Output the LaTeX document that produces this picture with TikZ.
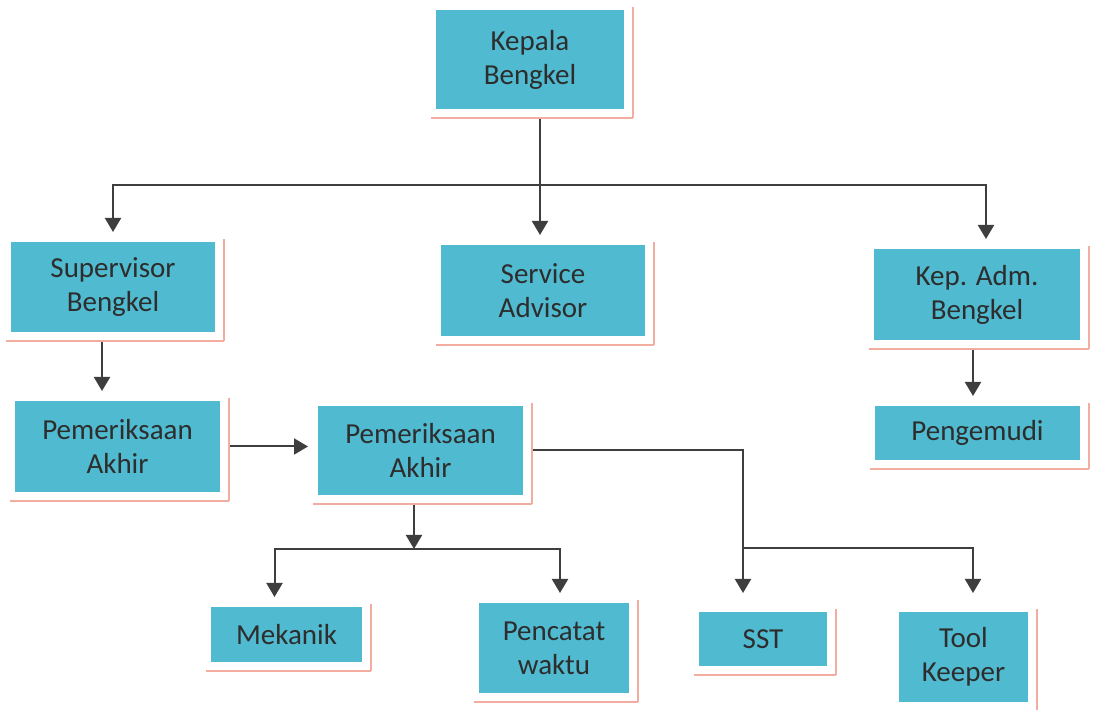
\documentclass[tikz,border=0pt]{standalone}
\usepackage{fontspec}
\setmainfont{Carlito}
\usetikzlibrary{arrows.meta}
\definecolor{boxfill}{RGB}{80,186,208}
\definecolor{rim}{RGB}{242,172,160}
\definecolor{ink}{RGB}{62,62,62}
\definecolor{txt}{RGB}{45,45,45}
\tikzset{
  unit/.style={fill=boxfill, text=txt, align=center, inner sep=0pt, outer sep=10pt,
    font=\fontsize{29}{34}\selectfont},
  link/.style={draw=ink, line width=2pt},
  arr/.style={link, -{Triangle[width=16pt,length=14pt]}},
}
\begin{document}
\begin{tikzpicture}[x=1pt,y=1pt]
\useasboundingbox (0,0) rectangle (1096,710);
% top level
\node[unit, minimum width=188pt, minimum height=99pt] (kepala) at (530,650.5) {Kepala\\Bengkel};
% second level
\node[unit, minimum width=204pt, minimum height=90pt] (supervisor) at (113,423) {Supervisor\\Bengkel};
\node[unit, minimum width=204pt, minimum height=91pt] (advisor) at (543,419.5) {Service\\Advisor};
\node[unit, minimum width=206pt, minimum height=91pt] (kepadm) at (977,415.5) {Kep. Adm.\\Bengkel};
% third level
\node[unit, minimum width=205pt, minimum height=91pt] (periksaA) at (117.5,263.5) {Pemeriksaan\\Akhir};
\node[unit, minimum width=205pt, minimum height=89pt] (periksaB) at (420.5,259.5) {Pemeriksaan\\Akhir};
\node[unit, minimum width=205pt, minimum height=54pt] (pengemudi) at (977.5,277) {Pengemudi};
% bottom level
\node[unit, minimum width=151pt, minimum height=55pt] (mekanik) at (286.5,75.5) {Mekanik};
\node[unit, minimum width=150pt, minimum height=90pt] (pencatat) at (554,62) {Pencatat\\waktu};
\node[unit, minimum width=128pt, minimum height=54pt] (sst) at (763,71) {SST};
\node[unit, minimum width=129pt, minimum height=90pt] (keeper) at (963.5,53) {Tool\\Keeper};
% pink rims
\foreach \n in {kepala,supervisor,advisor,kepadm,periksaA,periksaB,pengemudi,mekanik,pencatat,sst,keeper}
{   \draw[rim, line width=1.2pt] ([xshift=-1pt,yshift=-7pt]\n.north east) -- ([xshift=-1pt,yshift=1pt]\n.south east);
    \draw[rim, line width=2.5pt] ([xshift=5pt,yshift=1pt]\n.south west) -- ([xshift=-1pt,yshift=1pt]\n.south east);
}
% connectors
\coordinate (top) at (540,525);
\draw[link] ([xshift=10pt]kepala.south) -- (top);
\draw[arr] (top) -| (supervisor.north);
\draw[arr] (top) -- (top |- advisor.north);
\draw[arr] (top) -| ([xshift=9pt]kepadm.north);
\draw[arr] ([xshift=-11pt]supervisor.south) -- ([xshift=-11pt]supervisor.south |- periksaA.north);
\draw[arr] ([xshift=-4pt]kepadm.south) -- ([xshift=-4pt]kepadm.south |- pengemudi.north);
\draw[arr] (periksaA.east) -- (periksaA.east -| periksaB.west);
\coordinate (mid) at (414,161);
\draw[arr] (periksaB.south -| mid) -- (mid);
\draw[arr] (mid) -| ([xshift=-12pt]mekanik.north);
\draw[arr] (mid) -| ([xshift=6pt]pencatat.north);
\coordinate (side) at (743,162);
\coordinate (sstin) at ([yshift=9pt]sst.north);
\coordinate (keeperin) at ([xshift=9.5pt,yshift=9pt]keeper.north);
\draw[arr] (periksaB.east) -| (sstin -| side);
\draw[arr] (side) -| (keeperin);
\end{tikzpicture}
\end{document}
